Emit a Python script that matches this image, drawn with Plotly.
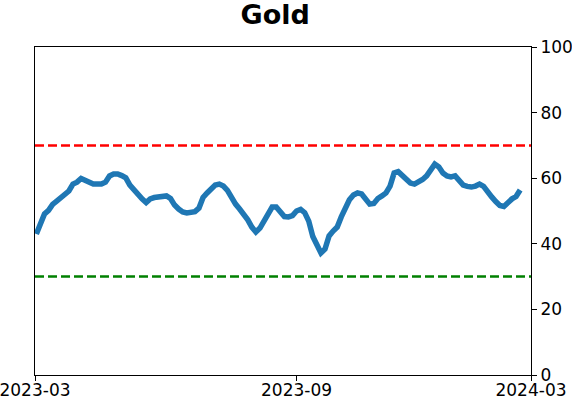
import pandas as pd
import plotly.graph_objects as go

# one reading every 3 days
START_DATE = '2023-03-02'
STEP = '3D'

GOLD_VALUES = [
    43.0, 45.7, 49.1, 50.2, 52.0, 53.0, 54.0, 54.7, 56.1, 58.2,
    58.8, 59.9, 59.3, 58.5, 58.2, 58.2, 58.2, 58.8, 60.7, 61.3,
    61.3, 60.8, 60.1, 57.9, 56.4, 55.5, 53.7, 52.6, 53.7, 54.1,
    54.4, 54.7, 54.6, 53.8, 51.8, 50.6, 49.7, 49.4, 49.5, 49.8,
    50.9, 54.1, 55.5, 57.0, 57.9, 58.2, 57.6, 56.3, 54.0, 52.1,
    50.6, 49.1, 47.3, 45.1, 43.6, 44.8, 46.9, 49.1, 51.2, 51.2,
    49.4, 48.3, 48.2, 48.6, 50.0, 50.5, 49.5, 46.9, 42.2, 39.3,
    37.2, 38.4, 42.4, 43.9, 45.1, 48.2, 51.2, 53.4, 54.9, 55.5,
    55.2, 53.7, 52.1, 52.3, 53.8, 54.6, 55.5, 57.6, 61.6, 62.0,
    60.8, 59.5, 58.5, 58.2, 58.7, 59.6, 60.7, 62.2, 64.3, 63.4,
    61.6, 60.7, 60.4, 60.7, 59.1, 57.9, 57.5, 57.3, 57.6, 58.2,
    57.5, 55.6, 54.3, 52.9, 51.7, 51.4, 52.6, 53.7, 54.4, 56.4,
]

UPPER_LEVEL = 70
LOWER_LEVEL = 30

X_TICK_VALS = ['2023-03-01', '2023-09-10', '2024-03-01']
X_TICK_TEXT = ['2023-03', '2023-09', '2024-03']
Y_TICK_VALS = [0, 20, 40, 60, 80, 100]

dates = pd.date_range(START_DATE, periods=len(GOLD_VALUES), freq=STEP)

fig = go.Figure()
fig.add_trace(go.Scatter(x=dates, y=GOLD_VALUES, mode='lines',
                         line=dict(color='#1f77b4', width=5.5), showlegend=False))

for level, color in [(UPPER_LEVEL, '#ff0000'), (LOWER_LEVEL, '#008000')]:
    fig.add_shape(type='line', xref='paper', x0=0, x1=1, yref='y', y0=level, y1=level,
                  line=dict(color=color, width=2.5, dash='9px,4px'))

axis_style = dict(showline=True, linecolor='black', linewidth=1, mirror=True,
                  ticks='outside', ticklen=5, tickcolor='black', showgrid=False,
                  zeroline=False, automargin=False, ticklabeloverflow='allow',
                  tickfont=dict(size=17, color='black'))

fig.update_xaxes(type='date', range=['2023-03-01', '2024-03-01'],
                 tickvals=X_TICK_VALS, ticktext=X_TICK_TEXT, ticklabelstandoff=-5,
                 **axis_style)
fig.update_yaxes(range=[0, 100], tickvals=Y_TICK_VALS, side='right', **axis_style)

fig.update_layout(
    width=572, height=402,
    margin=dict(l=35, r=41, t=47, b=27),
    paper_bgcolor='white', plot_bgcolor='white',
    font=dict(family='DejaVu Sans', color='black'),
    title=dict(text='<b>Gold</b>', x=0.481, xanchor='center', xref='container',
               y=0.988, yanchor='top', yref='container',
               font=dict(size=27, color='black')),
)

# the page's default body margin would shift the figure by 8px
fig.write_html('out.html', config={'displayModeBar': False},
               post_script="document.body.style.margin='0';")
